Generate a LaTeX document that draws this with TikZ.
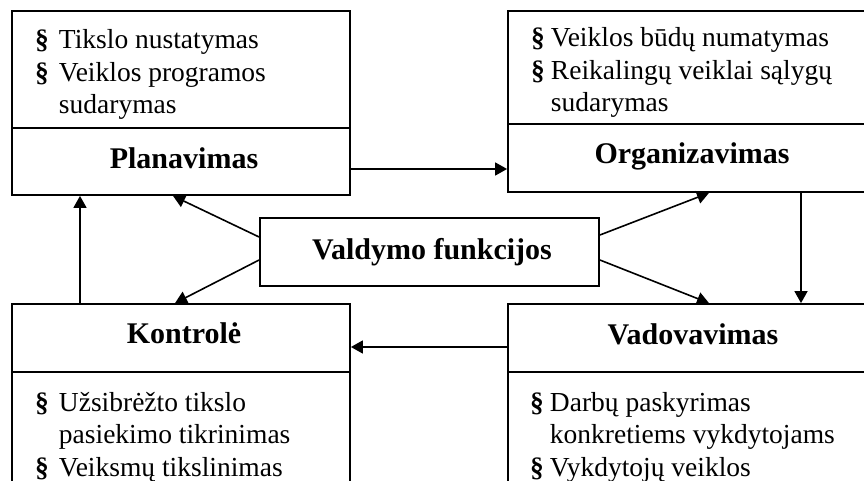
\documentclass[tikz,border=0pt]{standalone}
\usepackage{fontspec}
\setmainfont{Liberation Serif}
\usetikzlibrary{arrows.meta}
\newcommand\pbul{\textbf{§}}
\begin{document}
\begin{tikzpicture}[x=1pt,y=-1pt,
  part/.style={draw=black, line width=1.8pt, rectangle, inner sep=0pt},
  ttl/.style={font=\fontsize{30}{36}\selectfont\bfseries, anchor=base, inner sep=0pt},
  items/.style={font=\fontsize{27.5}{32.5}\selectfont, anchor=base west, inner sep=0pt, align=left},
  arr/.style={line width=1.6pt, -{Triangle[length=12pt,width=13pt]}}]
\clip (0,0) rectangle (864,481);
% Planavimas
\node[part, minimum width=338pt, minimum height=117pt] (planI) at (181,69.5) {};
\node[part, minimum width=338pt, minimum height=67pt] (plan) at (181,161.5) {};
\node[ttl] (planL) at (184,169) {Planavimas};
\node[items] (planX) at (35,49) {\begin{tabular}[t]{@{}l@{\hspace{10pt}}l@{}}\pbul & Tikslo nustatymas\\ \pbul & Veiklos programos\\ & sudarymas\end{tabular}};
% Organizavimas
\node[part, minimum width=372pt, minimum height=113pt] (orgI) at (694,67.5) {};
\node[part, minimum width=372pt, minimum height=68pt] (org) at (694,158) {};
\node[ttl] (orgL) at (692,164) {Organizavimas};
\node[items] (orgX) at (531,47) {\begin{tabular}[t]{@{}l@{\hspace{6pt}}l@{}}\pbul & Veiklos būdų numatymas\\ \pbul & Reikalingų veiklai sąlygų\\ & sudarymas\end{tabular}};
% Vadovavimas
\node[part, minimum width=372pt, minimum height=68pt] (vad) at (694,338) {};
\node[part, minimum width=372pt, minimum height=148pt] (vadI) at (694,446) {};
\node[ttl] (vadL) at (693,344) {Vadovavimas};
\node[items] (vadX) at (530,411) {\begin{tabular}[t]{@{}l@{\hspace{6pt}}l@{}}\pbul & Darbų paskyrimas\\ & konkretiems vykdytojams\\ \pbul & Vykdytojų veiklos\end{tabular}};
% Kontrole
\node[part, minimum width=338pt, minimum height=68pt] (kon) at (181,338) {};
\node[part, minimum width=338pt, minimum height=148pt] (konI) at (181,446) {};
\node[ttl] (konL) at (184,343) {Kontrolė};
\node[items] (konX) at (35,411) {\begin{tabular}[t]{@{}l@{\hspace{10pt}}l@{}}\pbul & Užsibrėžto tikslo\\ & pasiekimo tikrinimas\\ \pbul & Veiksmų tikslinimas\end{tabular}};
% Valdymo funkcijos
\node[part, minimum width=339pt, minimum height=68pt] (val) at (429.5,252) {};
\node[ttl] (valL) at (432,259) {Valdymo funkcijos};
% connectors
\draw[arr] ([yshift=-7.5pt]plan.east) -- ([yshift=-7.5pt]plan.east -| org.west);
\draw[arr] ([xshift=107pt]org.south) -- ([xshift=107pt]vad.north);
\draw[arr] ([yshift=-9pt]vad.west) -- ([yshift=-9pt]vad.west -| kon.east);
\draw[arr] ([xshift=-101pt]kon.north) -- ([xshift=-101pt]plan.south);
\draw[arr] ([yshift=15pt]val.west) -- ([xshift=-8pt]plan.south);
\draw[arr] ([yshift=-8pt]val.west) -- ([xshift=-6pt]kon.north);
\draw[arr] ([yshift=17pt]val.east) -- ([xshift=15pt]org.south);
\draw[arr] ([yshift=-8pt]val.east) -- ([xshift=15pt]vad.north);
\end{tikzpicture}
\end{document}
